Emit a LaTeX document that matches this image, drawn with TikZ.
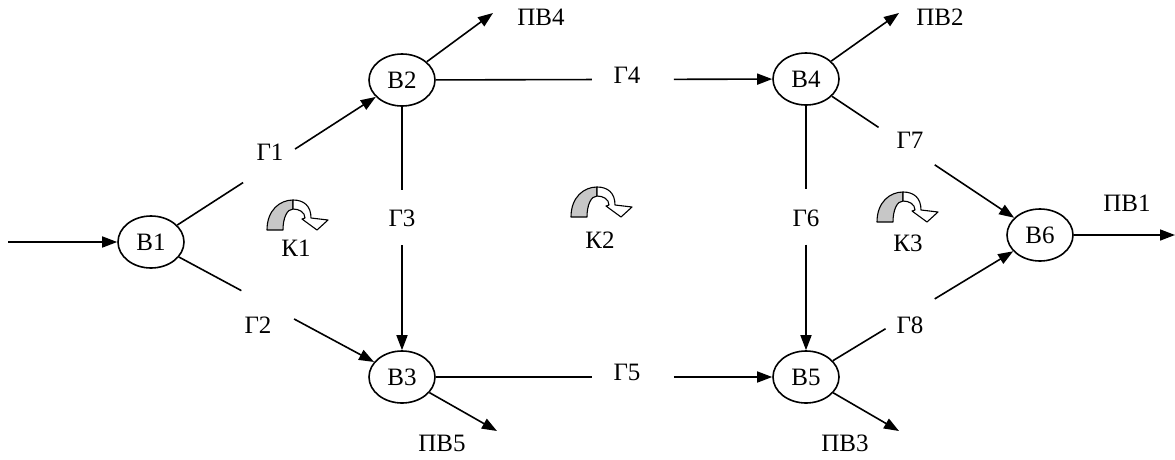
\documentclass[tikz,border=0pt]{standalone}
\usepackage{fontspec}
\setmainfont{Liberation Serif}
\usetikzlibrary{shapes.geometric,arrows.meta,calc}
\begin{document}
\begin{tikzpicture}[x=1pt,y=-1pt,
  every node/.style={font=\fontsize{25}{29}\selectfont},
  vert/.style={ellipse,draw,line width=1.6pt,minimum width=66pt,minimum height=52pt,inner sep=0pt},
  link/.style={line width=1.6pt},
  arr/.style={link,-{Triangle[length=15pt,width=11pt]}},
  cyc/.pic={
    \begin{scope}[yscale=-1,line width=1.1pt,line join=round]
      \filldraw[fill=black!22] (-26,0) .. controls (-26,20) and (-13,30) .. (0,30)
        -- (0,21) .. controls (-6,21) and (-10,12) .. (-10,0) -- cycle;
      \filldraw[fill=white] (0,30) .. controls (11,30) and (18,24) .. (18,12)
        -- (35,10) -- (24,0) -- (9,11) -- (12,12) .. controls (12,18) and (6,21) .. (0,21) -- cycle;
    \end{scope}
  }
]
\useasboundingbox (0,0) rectangle (1175,459);

% vertices
\node[vert] (B1) at (151,242) {В1};
\node[vert] (B2) at (402,80)  {В2};
\node[vert] (B3) at (402,377) {В3};
\node[vert] (B4) at (806,79)  {В4};
\node[vert] (B5) at (806,377) {В5};
\node[vert] (B6) at (1040,235) {В6};

% input and outputs
\coordinate (in) at (8,242);
\coordinate (o1) at (1175,235);
\coordinate (o2) at (899,13);
\coordinate (o3) at (899,431);
\coordinate (o4) at (493,13);
\coordinate (o5) at (497,431);
\draw[arr] (in) -- (B1);
\draw[arr] (B6) -- (o1);
\draw[arr] (B4) -- (o2);
\draw[arr] (B5) -- (o3);
\draw[arr] (B2) -- (o4);
\draw[arr] (B3) -- (o5);
\node (p1) at (1127,203) {ПВ1};
\node (p2) at (940,17)   {ПВ2};
\node (p3) at (845,443)  {ПВ3};
\node (p4) at (541,17)   {ПВ4};
\node (p5) at (442,443)  {ПВ5};

% branches, each broken around its label
\coordinate (g1a) at ($(B1)!0.367!(B2)$); \coordinate (g1b) at ($(B1)!0.574!(B2)$);
\coordinate (g2a) at ($(B1)!0.36!(B3)$);  \coordinate (g2b) at ($(B1)!0.57!(B3)$);
\coordinate (g3a) at ($(B2)!0.37!(B3)$);  \coordinate (g3b) at ($(B2)!0.556!(B3)$);
\coordinate (g4a) at ($(B2)!0.47!(B4)$);  \coordinate (g4b) at ($(B2)!0.673!(B4)$);
\coordinate (g5a) at ($(B3)!0.47!(B5)$);  \coordinate (g5b) at ($(B3)!0.673!(B5)$);
\coordinate (g6a) at ($(B4)!0.37!(B5)$);  \coordinate (g6b) at ($(B4)!0.556!(B5)$);
\coordinate (g7a) at ($(B4)!0.31!(B6)$);  \coordinate (g7b) at ($(B4)!0.55!(B6)$);
\coordinate (g8a) at ($(B5)!0.34!(B6)$);  \coordinate (g8b) at ($(B5)!0.55!(B6)$);

\draw[link] (B1) -- (g1a); \draw[arr] (g1b) -- (B2);
\draw[link] (B1) -- (g2a); \draw[arr] (g2b) -- (B3);
\draw[link] (B2) -- (g3a); \draw[arr] (g3b) -- (B3);
\draw[link] (B2) -- (g4a); \draw[arr] (g4b) -- (B4);
\draw[link] (B3) -- (g5a); \draw[arr] (g5b) -- (B5);
\draw[link] (B4) -- (g6a); \draw[arr] (g6b) -- (B5);
\draw[link] (B4) -- (g7a); \draw[arr] (g7b) -- (B6);
\draw[link] (B5) -- (g8a); \draw[arr] (g8b) -- (B6);

\node (t1) at (270,152) {Г1};
\node (t2) at (258,325) {Г2};
\node (t3) at (402,218) {Г3};
\node (t4) at (627,75)  {Г4};
\node (t5) at (627,372) {Г5};
\node (t6) at (806,218) {Г6};
\node (t7) at (910,140) {Г7};
\node (t8) at (910,325) {Г8};

% circulation loops
\pic at (293,230) {cyc};
\pic at (597,217) {cyc};
\pic at (903,222) {cyc};
\node (k1) at (296,248) {К1};
\node (k2) at (600,240) {К2};
\node (k3) at (908,243) {К3};
\end{tikzpicture}
\end{document}
